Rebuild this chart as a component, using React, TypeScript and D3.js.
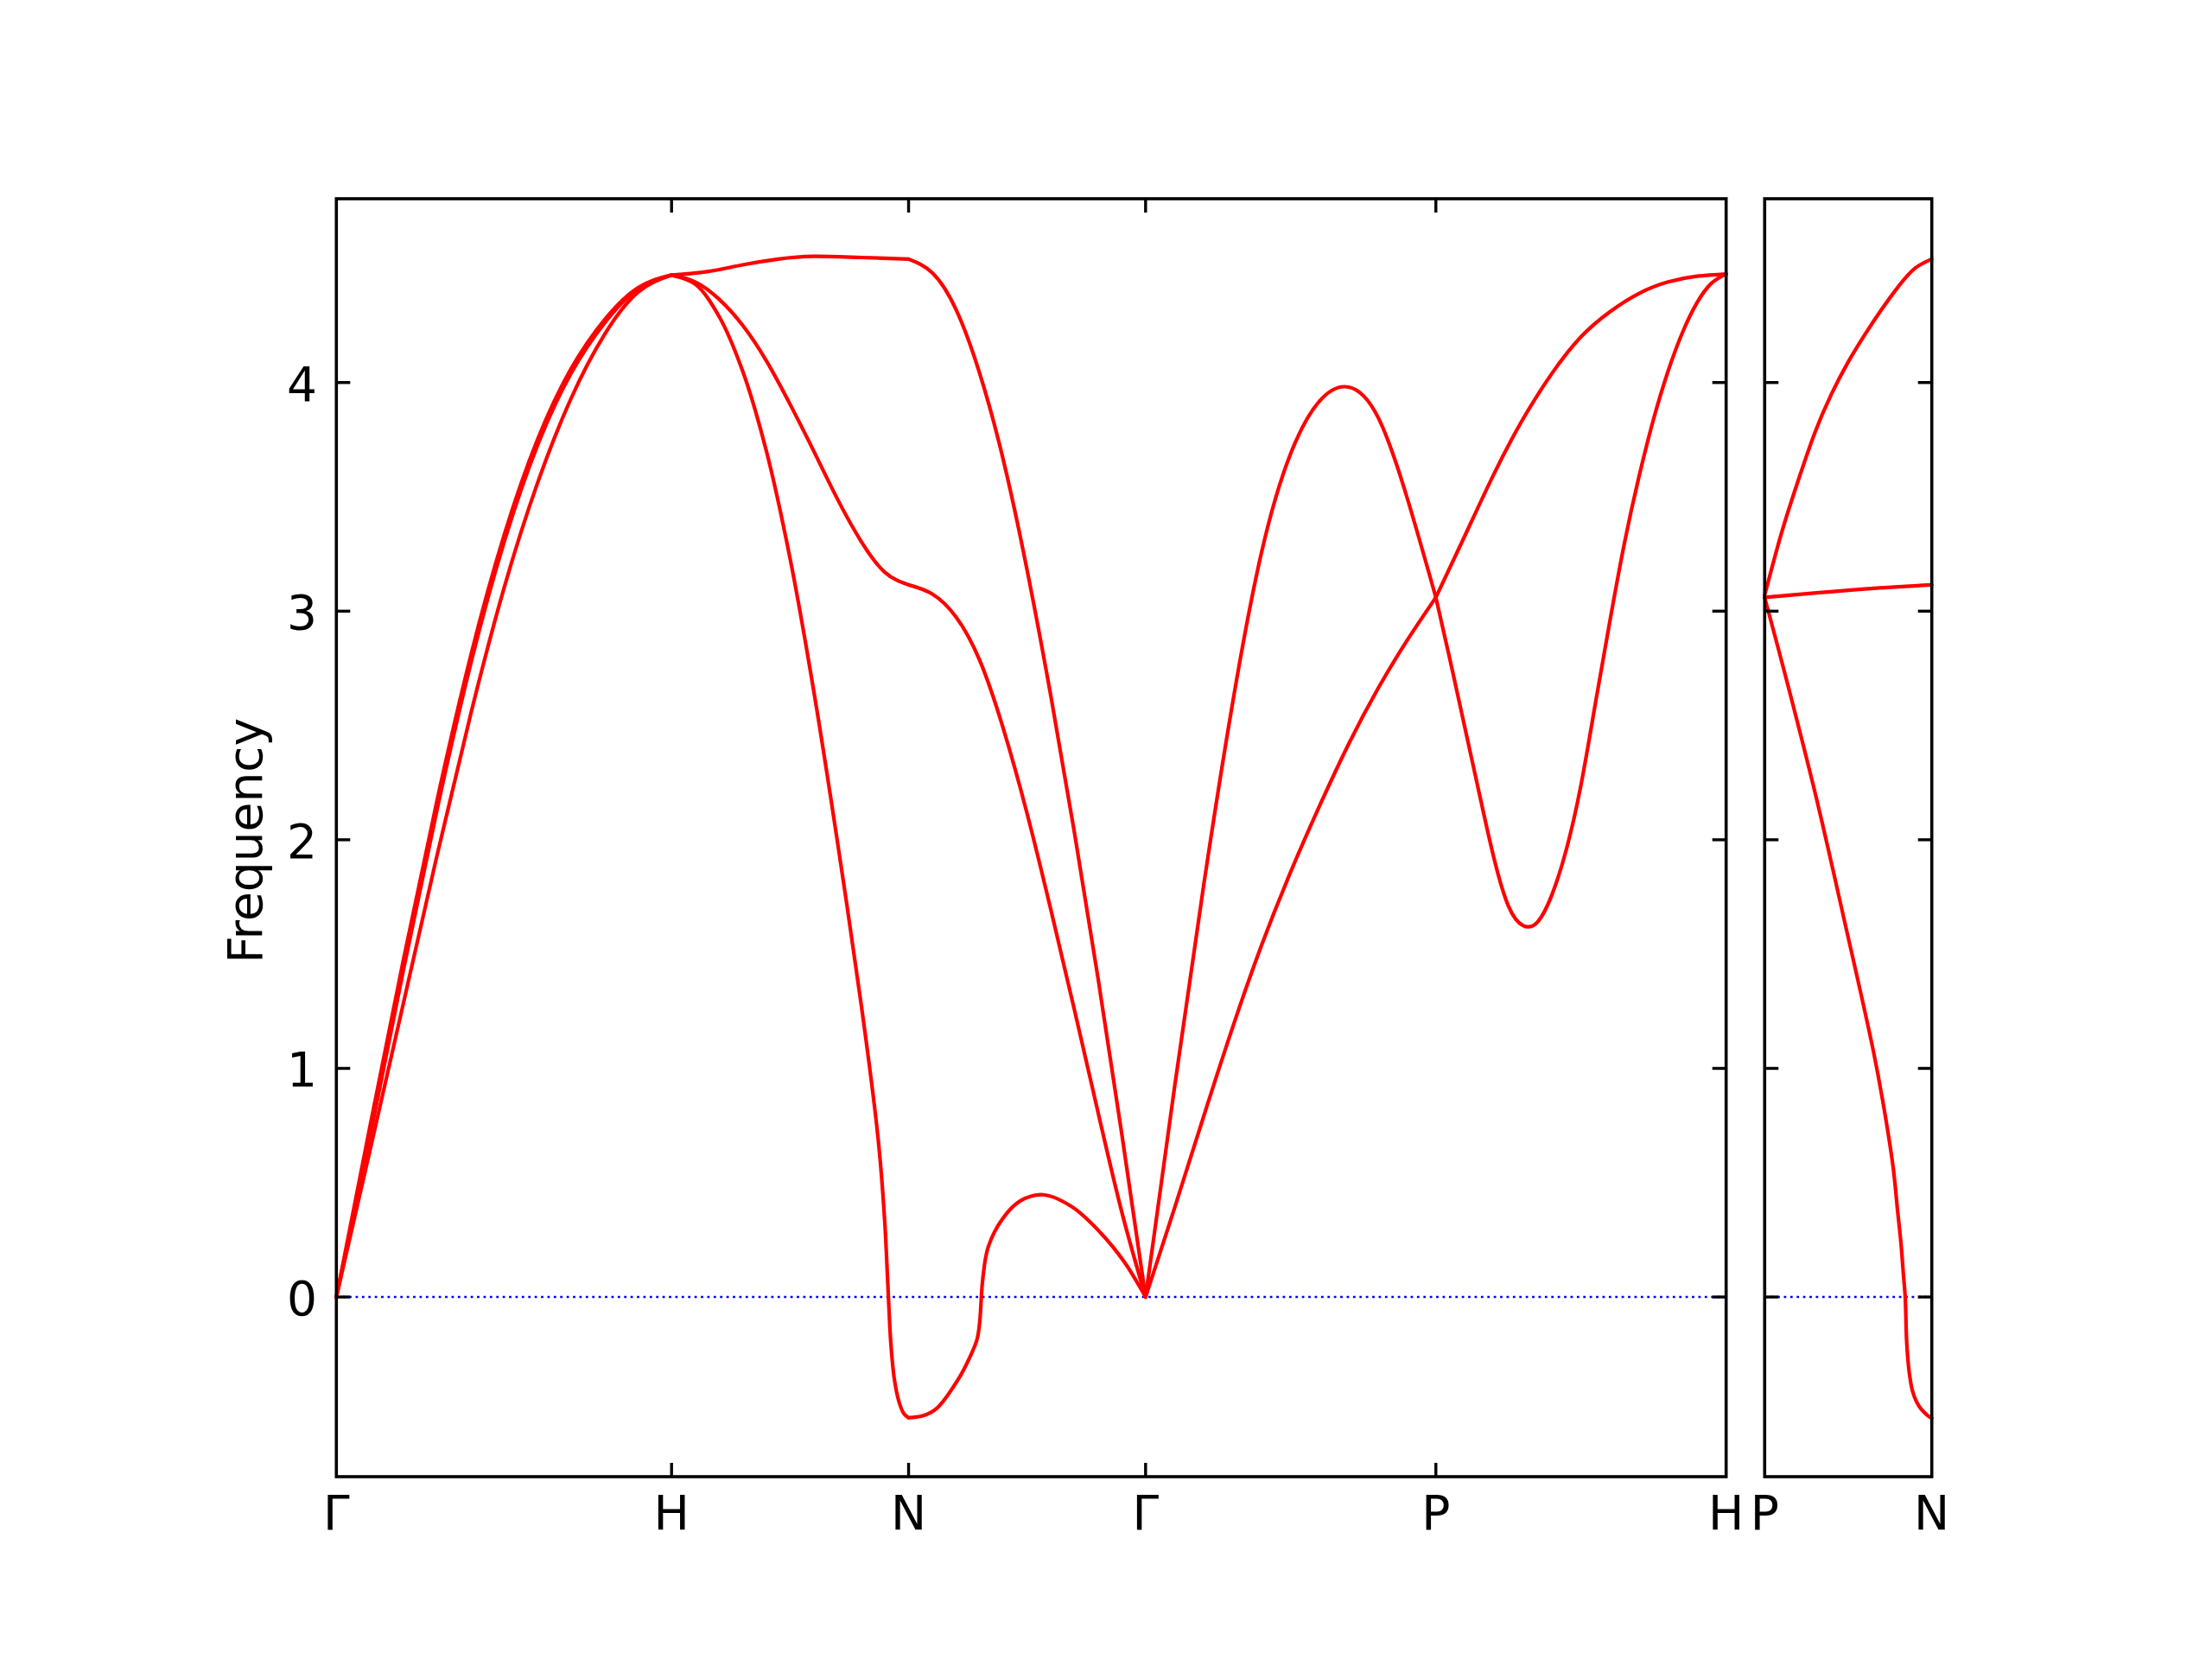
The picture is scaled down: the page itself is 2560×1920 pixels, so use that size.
import React from "react";
import * as d3 from "d3";

// ---- path / labels ----
const segLabels = ["Γ", "H", "N", "Γ", "P", "H"];
const segLengths = [1.0, 0.7071, 0.7071, 0.866, 0.866];
const panel2Labels = ["P", "N"];
const panel2Length = 0.5;
const yTicks = [0, 1, 2, 3, 4];
const yDomain = [-0.786, 4.804];

// ---- bands: [fraction along segment, frequency] ----
// Γ-H
const ghA = [[0, 0], [0.1, 0.745], [0.2, 1.475], [0.3, 2.17], [0.4, 2.8], [0.5, 3.33], [0.6, 3.75], [0.7, 4.06], [0.8, 4.275], [0.9, 4.415], [1, 4.47]];
const ghB = [[0, 0], [0.1, 0.7], [0.2, 1.43], [0.3, 2.13], [0.4, 2.765], [0.5, 3.3], [0.6, 3.725], [0.7, 4.04], [0.8, 4.26], [0.9, 4.41], [1, 4.47]];
const ghC = [[0, 0], [0.1, 0.64], [0.2, 1.285], [0.3, 1.93], [0.4, 2.545], [0.5, 3.1], [0.6, 3.56], [0.7, 3.93], [0.8, 4.21], [0.9, 4.395], [1, 4.47]];
// H-N
const hnTop = [[0, 4.47], [0.15, 4.485], [0.3, 4.515], [0.45, 4.54], [0.6, 4.552], [0.8, 4.547], [1, 4.54]];
const hnMid = [[0, 4.47], [0.1, 4.44], [0.2, 4.365], [0.3, 4.25], [0.4, 4.095], [0.5, 3.905], [0.6, 3.7], [0.7, 3.49], [0.8, 3.305], [0.9, 3.17], [1, 3.115]];
const hnLow = [[0, 4.47], [0.1, 4.43], [0.2, 4.29], [0.3, 4.05], [0.4, 3.7], [0.5, 3.23], [0.6, 2.65], [0.7, 1.99], [0.8, 1.28], [0.86, 0.8], [0.88, 0.6], [0.9, 0.32], [0.906, 0.2], [0.915, 0], [0.925, -0.2], [0.94, -0.36], [0.96, -0.46], [0.98, -0.51], [1, -0.528]];
// N-Γ
const ngTop = [[0, 4.54], [0.1, 4.48], [0.2, 4.32], [0.3, 4.04], [0.4, 3.66], [0.5, 3.18], [0.6, 2.63], [0.7, 2.03], [0.8, 1.39], [0.9, 0.71], [1, 0]];
const ngMid = [[0, 3.115], [0.1, 3.075], [0.2, 2.975], [0.3, 2.785], [0.4, 2.485], [0.5, 2.115], [0.6, 1.695], [0.7, 1.255], [0.8, 0.805], [0.9, 0.37], [1, 0]];
const ngLow = [[0, -0.528], [0.06, -0.52], [0.118, -0.488], [0.216, -0.349], [0.26, -0.26], [0.289, -0.185], [0.3, -0.11], [0.313, 0.079], [0.336, 0.219], [0.398, 0.344], [0.471, 0.42], [0.568, 0.447], [0.69, 0.394], [0.81, 0.281], [0.909, 0.155], [1, 0]];
// Γ-P
const gpD = [[0, 0], [0.1, 0.92], [0.2, 1.8], [0.3, 2.6], [0.4, 3.26], [0.5, 3.69], [0.6, 3.92], [0.7, 3.98], [0.8, 3.85], [0.9, 3.5], [1, 3.06]];
const gpE = [[0, 0], [0.1, 0.39], [0.2, 0.79], [0.3, 1.18], [0.4, 1.54], [0.5, 1.86], [0.6, 2.15], [0.7, 2.42], [0.8, 2.66], [0.9, 2.87], [1, 3.06]];
// P-H
const phD = [[0, 3.06], [0.05, 2.78], [0.1, 2.49], [0.15, 2.2], [0.2, 1.92], [0.25, 1.71], [0.3, 1.625], [0.35, 1.64], [0.4, 1.76], [0.45, 1.96], [0.5, 2.24], [0.55, 2.6], [0.6, 2.96], [0.65, 3.3], [0.7, 3.59], [0.75, 3.84], [0.8, 4.05], [0.85, 4.22], [0.9, 4.35], [0.95, 4.435], [1, 4.475]];
const phE = [[0, 3.06], [0.1, 3.33], [0.2, 3.6], [0.3, 3.84], [0.4, 4.04], [0.5, 4.2], [0.6, 4.31], [0.7, 4.39], [0.8, 4.44], [0.9, 4.465], [1, 4.475]];
// P-N (second panel)
const pnTop = [[0, 3.07], [0.1, 3.34], [0.2, 3.57], [0.3, 3.78], [0.4, 3.95], [0.5, 4.09], [0.6, 4.21], [0.7, 4.32], [0.8, 4.42], [0.9, 4.5], [1, 4.54]];
const pnFlat = [[0, 3.06], [0.31, 3.08], [0.655, 3.1], [1, 3.115]];
const pnDown = [[0, 3.06], [0.134, 2.69], [0.31, 2.18], [0.479, 1.64], [0.652, 1.07], [0.72, 0.8], [0.77, 0.56], [0.795, 0.38], [0.815, 0.24], [0.83, 0.1], [0.841, 0], [0.85, -0.2], [0.865, -0.33], [0.884, -0.41], [0.91, -0.46], [0.936, -0.49], [0.97, -0.515], [1, -0.53]];

const mainSegmentBands = [
  [ghA, ghB, ghC],
  [hnTop, hnMid, hnLow],
  [ngTop, ngMid, ngLow],
  [gpD, gpE],
  [phD, phE],
];
const panel2Bands = [pnTop, pnFlat, pnDown];
// bands with abrupt kinks are drawn with Catmull-Rom, smooth ones with a natural spline
const kinkedBands = [hnLow, ngLow, pnDown];

// ---- layout ----
const W = 2560, H = 1920;
const top = 230, bottom = 1709;
const m1 = { left: 389.3, right: 1997.7 };
const m2 = { left: 2042.3, right: 2235.7 };
const FONT = "DejaVu Sans, sans-serif";
const FS = 55;
const TICK = 16;

export default function App() {
  React.useEffect(() => {
    document.body.style.margin = "0";
  }, []);

  const total = d3.sum(segLengths);
  const starts = segLengths.map((_, i) => d3.sum(segLengths.slice(0, i)));
  const tickPos = [0, ...segLengths.map((_, i) => d3.sum(segLengths.slice(0, i + 1)))];

  const y = d3.scaleLinear().domain(yDomain).range([bottom, top]);
  const x1 = d3.scaleLinear().domain([0, total]).range([m1.left, m1.right]);
  const x2 = d3.scaleLinear().domain([0, panel2Length]).range([m2.left, m2.right]);
  const curveFor = (band: number[][]) =>
    kinkedBands.includes(band) ? d3.curveCatmullRom.alpha(0.5) : d3.curveNatural;

  const mainPaths: string[] = [];
  mainSegmentBands.forEach((bands, si) => {
    bands.forEach((band) => {
      const line = d3
        .line<number[]>()
        .x((d) => x1(starts[si] + d[0] * segLengths[si]))
        .y((d) => y(d[1]))
        .curve(curveFor(band));
      mainPaths.push(line(band) as string);
    });
  });
  const p2Paths = panel2Bands.map((band) =>
    d3
      .line<number[]>()
      .x((d) => x2(d[0] * panel2Length))
      .y((d) => y(d[1]))
      .curve(curveFor(band))(band) as string
  );

  const frame = (l: number, r: number) => (
    <rect x={l} y={top} width={r - l} height={bottom - top} fill="none" stroke="#000" strokeWidth={3.6} />
  );

  const yTickMarks = (l: number, r: number, key: string) =>
    yTicks.map((t) => (
      <g key={key + t}>
        <line x1={l} x2={l + TICK} y1={y(t)} y2={y(t)} stroke="#000" strokeWidth={3.4} />
        <line x1={r - TICK} x2={r} y1={y(t)} y2={y(t)} stroke="#000" strokeWidth={3.4} />
      </g>
    ));

  return (
    <svg width={W} height={H} style={{ position: "absolute", left: 0, top: 0, background: "#fff" }}>
      <rect x={0} y={0} width={W} height={H} fill="#fff" />
      {/* zero lines */}
      <line x1={m1.left} x2={m1.right} y1={y(0)} y2={y(0)} stroke="#0000ff" strokeWidth={2.6} strokeDasharray="2.8 4.6" />
      <line x1={m2.left} x2={m2.right} y1={y(0)} y2={y(0)} stroke="#0000ff" strokeWidth={2.6} strokeDasharray="2.8 4.6" />

      {/* bands */}
      <g fill="none" stroke="#ff0000" strokeWidth={4.2} strokeLinejoin="round" strokeLinecap="round">
        {mainPaths.map((p, i) => (
          <path key={"m" + i} d={p} />
        ))}
        {p2Paths.map((p, i) => (
          <path key={"p" + i} d={p} />
        ))}
      </g>

      {/* frames & ticks */}
      {frame(m1.left, m1.right)}
      {frame(m2.left, m2.right)}
      {yTickMarks(m1.left, m1.right, "a")}
      {yTickMarks(m2.left, m2.right, "b")}
      {tickPos.slice(1, -1).map((t, i) => (
        <g key={"xt" + i}>
          <line x1={x1(t)} x2={x1(t)} y1={top} y2={top + TICK} stroke="#000" strokeWidth={3.4} />
          <line x1={x1(t)} x2={x1(t)} y1={bottom - TICK} y2={bottom} stroke="#000" strokeWidth={3.4} />
        </g>
      ))}

      {/* y labels */}
      {yTicks.map((t) => (
        <text key={"yl" + t} x={367} y={y(t) + 21} textAnchor="end" fontFamily={FONT} fontSize={FS} fill="#000">
          {t}
        </text>
      ))}
      {/* x labels */}
      {tickPos.map((t, i) => (
        <text key={"xl" + i} x={x1(t)} y={1770} textAnchor="middle" fontFamily={FONT} fontSize={FS} fill="#000">
          {segLabels[i]}
        </text>
      ))}
      {panel2Labels.map((lab, i) => (
        <text key={"p2l" + i} x={x2(i * panel2Length)} y={1770} textAnchor="middle" fontFamily={FONT} fontSize={FS} fill="#000">
          {lab}
        </text>
      ))}
      <text
        transform={`translate(303,973) rotate(-90)`}
        textAnchor="middle"
        fontFamily={FONT}
        fontSize={FS}
        fill="#000"
      >
        Frequency
      </text>
    </svg>
  );
}
